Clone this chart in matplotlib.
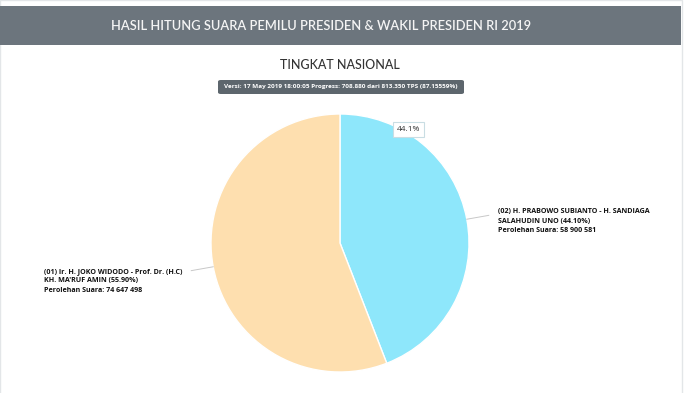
import numpy as np
import matplotlib
matplotlib.use("Agg")
import matplotlib.pyplot as plt
from matplotlib.patches import FancyBboxPatch, Rectangle

# ---- data ----
header = "HASIL HITUNG SUARA PEMILU PRESIDEN & WAKIL PRESIDEN RI 2019"
subtitle = "TINGKAT NASIONAL"
version = "Versi: 17 May 2019 18:00:05 Progress: 708.880 dari 813.350 TPS (87.15559%)"
candidates = ["(02) H. PRABOWO SUBIANTO - H. SANDIAGA\nSALAHUDIN UNO", "(01) Ir. H. JOKO WIDODO - Prof. Dr. (H.C)\nKH. MA'RUF AMIN"]
percent = [44.10, 55.90]
votes = [58900581, 74647498]
colors = ["#8ee7fb", "#fedfaf"]

W, H = 700, 393
fig = plt.figure(figsize=(W / 100, H / 100), dpi=100)
fig.patch.set_facecolor("white")
FONT = "Open Sans"
HFONT = "Lato"

def fx(x):
    return x / W

def fy(y):
    return 1 - y / H

# page frame
fig.add_artist(Rectangle((fx(0), fy(396)), fx(682), 1 + 3 / H, transform=fig.transFigure,
                         facecolor="none", edgecolor="#e3e6e8", lw=1))
# header band
fig.add_artist(Rectangle((fx(0), fy(45)), fx(681), 39 / H, transform=fig.transFigure,
                         facecolor="#6c757d", edgecolor="none"))
fig.text(fx(321), fy(26), header, ha="center", va="center", color="#f4f4f4",
         fontsize=9.3, family=HFONT, fontweight="semibold")

fig.text(fx(340), fy(65), subtitle, ha="center", va="center", color="#333333",
         fontsize=9.0, family=HFONT, fontweight="medium")
# version badge
fig.add_artist(FancyBboxPatch((fx(218), fy(94)), fx(246), 14 / H, transform=fig.transFigure,
                              boxstyle="round,pad=0,rounding_size=0.004",
                              facecolor="#5d666d", edgecolor="none"))
fig.text(fx(341), fy(86.5), version, ha="center", va="center", color="white",
         fontsize=4.6, family=FONT, fontweight="bold")

# pie
cx, cy, r = 340, 243, 129
ax = fig.add_axes([fx(cx - r), fy(cy + r), 2 * r / W, 2 * r / H])
wedges, _ = ax.pie(percent, colors=colors, startangle=90, counterclock=False, radius=1,
                   wedgeprops=dict(edgecolor="white", linewidth=1))
ax.set_xlim(-1, 1)
ax.set_ylim(-1, 1)
ax.set_aspect("auto")
ax.axis("off")

# data labels with connectors
cum = np.cumsum([0] + percent[:-1])
for i, (p, c0) in enumerate(zip(percent, cum)):
    mid = np.deg2rad(90 - (c0 + p / 2) * 3.6)
    x0, y0 = np.cos(mid), np.sin(mid)
    side = 1 if x0 > 0 else -1
    x1 = x0 + side * 0.17
    y1 = y0 + 0.03 * np.sign(y0)
    ax.plot([x0, x1], [y0, y1], color="#c8c8c8", lw=0.7, clip_on=False)
    lbl = f"{candidates[i]} ({p:.2f}%)\nPerolehan Suara: {votes[i]:,}".replace(",", " ")
    if side > 0:
        ax.text(x1 + 0.07, y1 - 0.045, lbl, ha="left", va="center", fontsize=5.1,
                family=FONT, fontweight="bold", color="#111111", linespacing=1.5)
    else:
        ax.text(x1 - 1.14, y1 - 0.08, lbl, ha="left", va="center", fontsize=5.1,
                family=FONT, fontweight="bold", color="#111111", linespacing=1.5)

# tooltip
ax.text(0.53, 0.88, f"{percent[0]:.1f}%", ha="center", va="center", fontsize=6,
        family=FONT, color="#333333",
        bbox=dict(boxstyle="square,pad=0.5", facecolor="white", edgecolor="#c9dde3", lw=0.8))

fig.savefig("out.png", dpi=100, facecolor="white")
